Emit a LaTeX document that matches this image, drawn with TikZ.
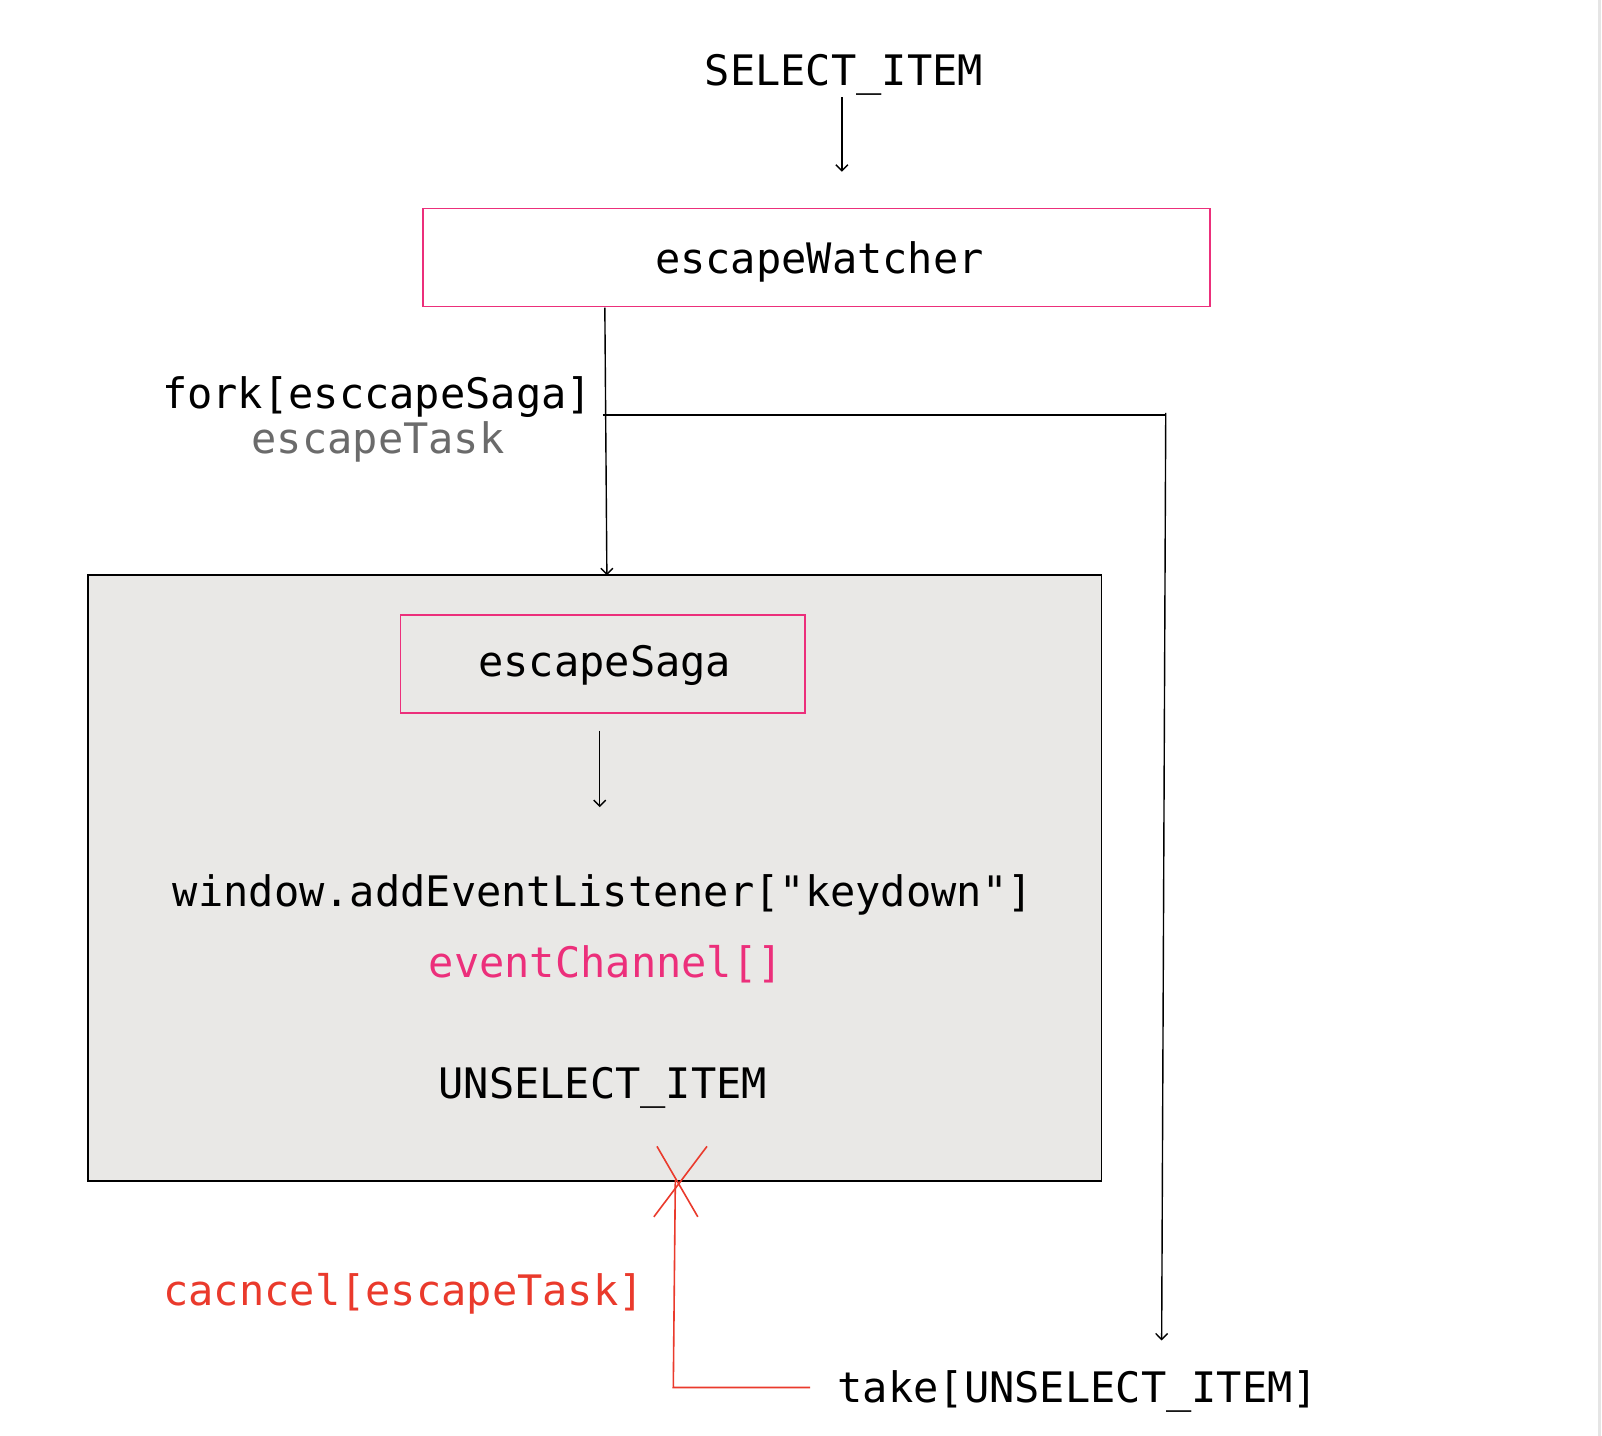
\documentclass[tikz,border=0pt]{standalone}
\usepackage{fontspec}
\setmonofont{DejaVu Sans Mono}
\usetikzlibrary{arrows.meta}
\definecolor{pinkc}{HTML}{EC2F7B}
\definecolor{redc}{HTML}{EA3A2C}
\definecolor{greyc}{HTML}{6B6B6B}
\definecolor{boxfill}{HTML}{E9E8E6}
\tikzset{
  lbl/.style={font=\ttfamily\fontsize{42}{42}\selectfont, anchor=base, inner sep=0pt},
  conn/.style={line width=1.4pt, draw=black},
  tip/.style={-{Straight Barb[length=6pt,width=12pt,line width=1.4pt]}},
  pinkbox/.style={draw=pinkc, line width=1.6pt},
}
\begin{document}
\begin{tikzpicture}[x=1.0217pt,y=-1.0217pt]
\useasboundingbox (0,0) rectangle (1568,1405.5);
\fill[white] (0,0) rectangle (1568,1405.5);
\draw[line width=3pt, draw=black!10] (1566,0) -- (1566,1405.5);

% title
\node[lbl] (sel) at (826,84) {SELECT\_ITEM};
\coordinate (selS) at (824,95);
\coordinate (selE) at (824,168);
\draw[conn,tip] (selS) -- (selE);

% escapeWatcher
\node[pinkbox, minimum width=787pt, minimum height=98pt, inner sep=0pt] (watch) at (799,252) {};
\node[lbl] (watchT) at (802,268) {escapeWatcher};

% big grey box
\node[draw=black, fill=boxfill, line width=1.6pt, minimum width=1013.5pt, minimum height=606pt, inner sep=0pt] (sagaArea) at (582,859.5) {};

% fork
\coordinate (forkS) at (592,301);
\coordinate (forkE) at (594,563);
\draw[conn,tip] (forkS) -- (forkE);
\node[lbl] (forkT) at (369,400) {fork[esccapeSaga]};
\node[lbl, text=greyc] (taskT) at (370,444) {escapeTask};

% branch to take
\coordinate (brA) at (590,406);
\coordinate (brB) at (1141,406);
\coordinate (brC) at (1141,404);
\coordinate (brD) at (1137,1312);
\draw[conn] (brA) -- (brB);
\draw[conn,tip] (brC) -- (brD);

% escapeSaga
\node[pinkbox, minimum width=404.6pt, minimum height=98pt, inner sep=0pt] (saga) at (590,650) {};
\node[lbl] (sagaT) at (592,662) {escapeSaga};
\coordinate (sgS) at (587,715);
\coordinate (sgE) at (587,790);
\draw[conn,tip] (sgS) -- (sgE);

\node[lbl] (win) at (590,887) {window.addEventListener["keydown"]};
\node[lbl, text=pinkc] (chan) at (593,957) {eventChannel[]};
\node[lbl] (unsel) at (590,1075) {UNSELECT\_ITEM};

% cancel
\coordinate (x1a) at (643,1122);
\coordinate (x1b) at (683,1191);
\coordinate (x2a) at (692,1122);
\coordinate (x2b) at (640,1191);
\draw[draw=redc, line width=1.6pt] (x1a) -- (x1b);
\draw[draw=redc, line width=1.6pt] (x2a) -- (x2b);
\node[lbl] (take) at (1055,1373) {take[UNSELECT\_ITEM]};
\coordinate (cA) at (661,1155);
\coordinate (cB) at (659,1358);
\coordinate (cC) at (793,1358);
\draw[draw=redc, line width=1.6pt] (cC) -- (cB) -- (cA);
\node[lbl, text=redc] (cancelT) at (395,1278) {cacncel[escapeTask]};
\end{tikzpicture}
\end{document}
